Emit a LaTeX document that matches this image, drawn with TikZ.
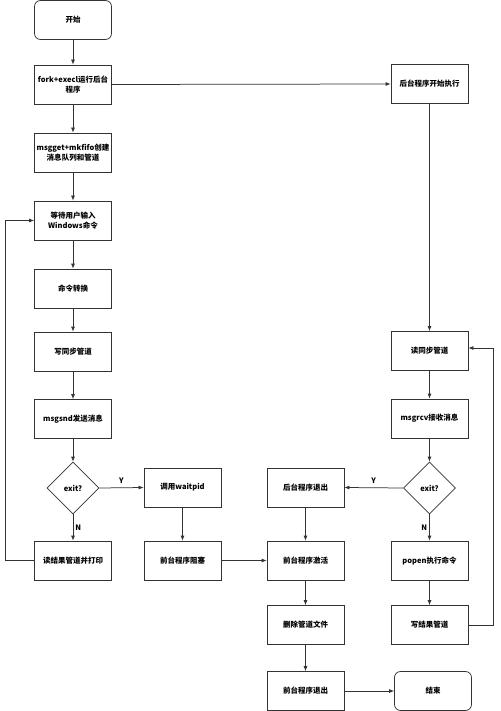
\documentclass[tikz,border=0pt]{standalone}
\usepackage{fontspec}
\setmainfont{Noto Sans CJK SC}
\usetikzlibrary{shapes.geometric,arrows.meta}
\definecolor{ln}{HTML}{333333}
\tikzset{
  box/.style={draw=ln, line width=0.75pt, minimum width=77pt, minimum height=39pt, inner sep=1pt, align=center, font=\fontsize{7.5}{10}\selectfont\bfseries},
  rbox/.style={box, rounded corners=6pt},
  dia/.style={draw=ln, line width=0.75pt, diamond, minimum width=52pt, minimum height=52pt, inner sep=0pt, font=\fontsize{7.5}{10}\selectfont\bfseries},
  arr/.style={draw=ln, line width=0.75pt, -{Latex[length=5pt,width=4pt]}},
  ln/.style={draw=ln, line width=0.75pt},
  lab/.style={font=\fontsize{7.5}{10}\selectfont\bfseries, inner sep=0pt}
}
\begin{document}
\begin{tikzpicture}[x=1pt,y=-1pt]
\useasboundingbox (0,0) rectangle (500,711);
\fill[white] (0,0) rectangle (500,711);
% left column
\node[rbox] (start) at (73,20) {开始};
\node[box] (fork) at (73,84.5) {fork+execl运行后台\\程序};
\node[box] (msgget) at (73,152.5) {msgget+mkfifo创建\\消息队列和管道};
\node[box] (wait) at (73,220.5) {等待用户输入\\Windows命令};
\node[box] (conv) at (73,288.5) {命令转换};
\node[box] (wsync) at (73,351.5) {写同步管道};
\node[box] (msgsnd) at (73,419) {msgsnd发送消息};
\node[dia] (exitA) at (73,488) {exit?};
\node[box] (print) at (73,560.5) {读结果管道并打印};
% second column
\node[box] (waitpid) at (182.5,487.5) {调用waitpid};
\node[box] (block) at (182.5,560.5) {前台程序阻塞};
% third column
\node[box] (bgexit) at (305.5,487.5) {后台程序退出};
\node[box] (activate) at (305.5,560.5) {前台程序激活};
\node[box] (del) at (305.5,625) {删除管道文件};
\node[box] (fgexit) at (305.5,691) {前台程序退出};
% right column
\node[box] (bgstart) at (429.5,84) {后台程序开始执行};
\node[box] (rsync) at (429.5,351) {读同步管道};
\node[box] (msgrcv) at (429.5,418.5) {msgrcv接收消息};
\node[dia] (exitB) at (429.5,488) {exit?};
\node[box] (popen) at (429.5,560.5) {popen执行命令};
\node[box] (wresult) at (429.5,625) {写结果管道};
\node[rbox] (end) at (433,691) {结束};
\coordinate (lx) at (5,0);
\coordinate (rx) at (493,0);
% edges left
\draw[arr] (start) -- (fork);
\draw[arr] (fork) -- (msgget);
\draw[arr] (msgget) -- (wait);
\draw[arr] (wait) -- (conv);
\draw[arr] (conv) -- (wsync);
\draw[arr] (wsync) -- (msgsnd);
\draw[arr] (msgsnd) -- (exitA);
\draw[arr] (exitA.east) -- node[lab, above=4pt] {Y} (waitpid.west);
\draw[arr] (exitA.south) -- node[lab, right=2pt] {N} (print.north);
\draw[arr] (print.west) -- (print.west -| lx) |- (wait.west);
\draw[arr] (waitpid) -- (block);
\draw[arr] (block) -- (activate);
\draw[arr] (bgexit) -- (activate);
\draw[arr] (activate) -- (del);
\draw[arr] (del) -- (fgexit);
\draw[arr] (fgexit) -- (end);
% edges right
\draw[arr] (fork.east) -- (bgstart.west);
\draw[arr] (bgstart) -- (rsync);
\draw[arr] (rsync) -- (msgrcv);
\draw[arr] (msgrcv) -- (exitB);
\draw[arr] (exitB.west) -- node[lab, above=4pt] {Y} (bgexit.east);
\draw[arr] (exitB.south) -- node[lab, left=2pt] {N} (popen.north);
\draw[arr] (popen) -- (wresult);
\draw[arr] (wresult.east) -- (wresult.east -| rx) |- ([yshift=3pt]rsync.east);
\end{tikzpicture}
\end{document}
